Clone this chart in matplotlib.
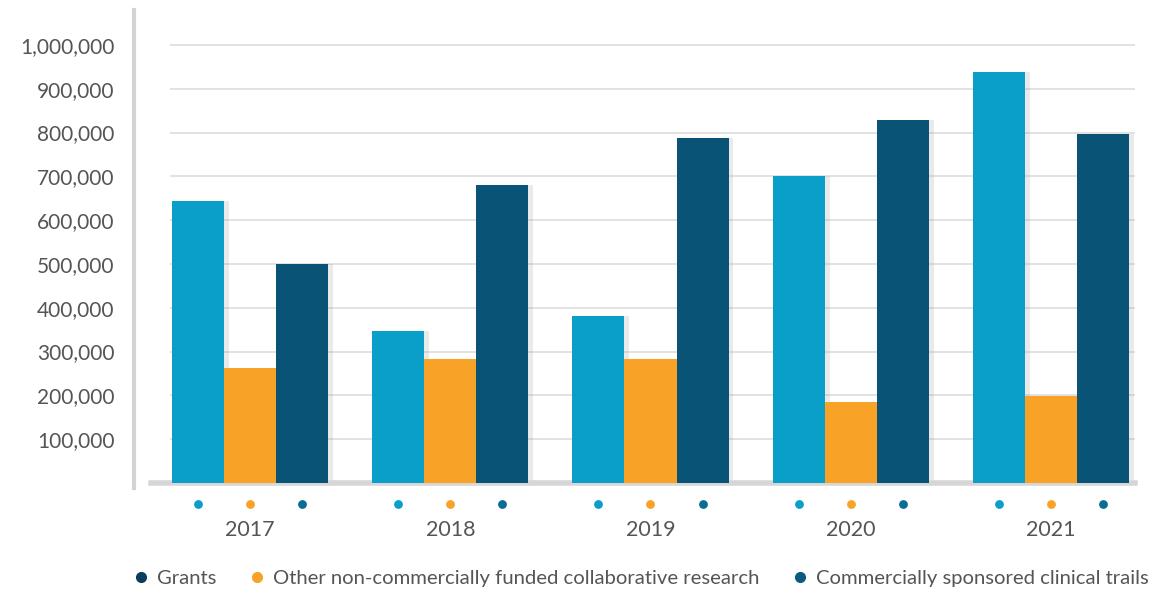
import numpy as np
import matplotlib.pyplot as plt
from matplotlib.transforms import blended_transform_factory
from matplotlib.lines import Line2D

years = ['2017', '2018', '2019', '2020', '2021']
grants = [644000, 347000, 381000, 701000, 938000]
other = [263000, 283000, 283000, 185000, 199000]
commercial = [500000, 680000, 788000, 829000, 797000]
series_names = ['Grants', 'Other non-commercially funded collaborative research',
                'Commercially sponsored clinical trails']

c_grants = '#0a9fc8'
c_other = '#f8a227'
c_comm = '#095476'
txt = '#555555'

plt.rcParams['font.family'] = ['Lato', 'DejaVu Sans']

fig = plt.figure(figsize=(11.56, 5.92), dpi=100)
ax = fig.add_axes([170 / 1156, (592 - 483) / 592, 965 / 1156, 460 / 592])

x = np.arange(len(years))
w = 0.26
for off, vals, col in [(-w, grants, c_grants), (0, other, c_other), (w, commercial, c_comm)]:
    # soft shadow to the right of each bar
    ax.bar(x + off + w / 2 + 0.012, vals, width=0.025, color='#999999', alpha=0.2,
           zorder=1, linewidth=0)
    ax.bar(x + off, vals, width=w, color=col, zorder=2, linewidth=0)

ax.set_xlim(-0.4, 4.42)
ax.set_ylim(0, 1050000)

yt = np.arange(100000, 1000001, 100000)
ax.set_yticks(yt)
ax.set_yticklabels([f'{v:,}' for v in yt], fontsize=15, color=txt)
for lab in ax.get_yticklabels():
    lab.set_verticalalignment('center_baseline')
ax.yaxis.grid(True, color='#dddddd', linewidth=1.2, zorder=0)
ax.set_axisbelow(True)
ax.tick_params(axis='y', length=0, pad=40)

ax.set_xticks(x)
ax.set_xticklabels(years, fontsize=15.5, color=txt)
ax.tick_params(axis='x', length=0, pad=27)

for s in ax.spines.values():
    s.set_visible(False)

# floor shadow along the baseline
ax.axhline(0, xmin=-0.02, xmax=1.0, color='#d6d6d6', linewidth=4, zorder=1, clip_on=False)

# coloured dots under each bar
tr = blended_transform_factory(ax.transData, ax.transAxes)
for off, col in [(-w, c_grants), (0, c_other), (w, '#0a6e94')]:
    ax.scatter(x + off, [-21 / 460] * len(x), s=40, color=col, transform=tr,
               clip_on=False, zorder=3, linewidths=0)

# left curved shadow line
fig.add_artist(Line2D([134 / 1156, 134 / 1156], [1 - 10 / 592, 1 - 488 / 592],
                      color='#c8c8cc', linewidth=3, alpha=0.8))

handles = [Line2D([], [], marker='o', linestyle='', color=c, markersize=7)
           for c in ['#0b3d5e', c_other, '#0b5a80']]
fig.legend(handles, series_names, loc='center', bbox_to_anchor=(641 / 1156, 14 / 592),
           ncol=3, frameon=False, fontsize=14.6, labelcolor=txt,
           handlelength=0.8, handletextpad=0.4, columnspacing=1.6,
           borderpad=0, borderaxespad=0)

fig.savefig('out.png', dpi=100)
